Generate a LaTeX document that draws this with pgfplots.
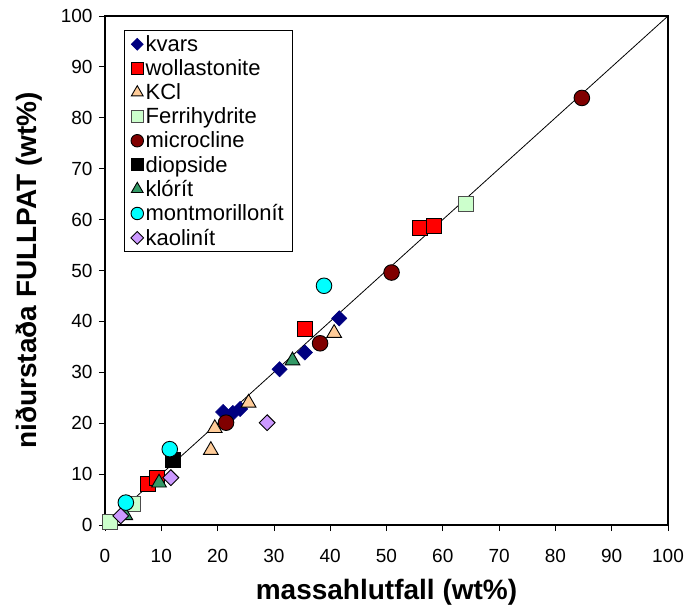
\documentclass[border=0pt]{standalone}
\usepackage{pgfplots}
\pgfplotsset{compat=1.18}
\usepackage{fontspec}
\setmainfont{Liberation Sans}
\definecolor{kvars}{RGB}{0,0,128}
\definecolor{woll}{RGB}{255,0,0}
\definecolor{kcl}{RGB}{255,204,153}
\definecolor{ferri}{RGB}{204,255,204}
\definecolor{micro}{RGB}{128,0,0}
\definecolor{klor}{RGB}{51,153,102}
\definecolor{mont}{RGB}{0,255,255}
\definecolor{kaol}{RGB}{204,153,255}
\begin{document}
\begin{tikzpicture}
\begin{axis}[
  name=ax,
  scale only axis,
  width=563bp, height=509bp,
  xmin=0, xmax=100, ymin=0, ymax=100,
  xtick={0,10,...,100}, ytick={0,10,...,100},
  tick pos=left, tick align=outside,
  major tick length=6bp,
  axis line style={line width=1.6bp},
  every tick/.style={black, line width=0.8bp},
  /pgf/number format/assume math mode=true,
  tick label style={font=\fontsize{19bp}{22bp}\selectfont},
  xticklabel style={yshift=-15bp},
  yticklabel style={xshift=-3bp},
  xlabel={\textbf{massahlutfall (wt\%)}},
  ylabel={\textbf{niðurstaða FULLPAT (wt\%)}},
  label style={font=\fontsize{28bp}{32bp}\selectfont},
  xlabel style={at={(axis description cs:0.5,0)}, anchor=center, yshift=-67bp},
  ylabel style={at={(axis description cs:0,0.5)}, anchor=center, rotate=0, yshift=76bp},
  legend cell align=left,
  legend style={at={(0.034,0.972)}, anchor=north west, draw=black, line width=0.6bp,
    font=\fontsize{22bp}{26bp}\selectfont, row sep=2.7bp, inner xsep=6.5bp, inner ysep=3bp},
  legend image code/.code={\draw[#1, every mark/.append style={scale=0.8}] plot coordinates {(0.3cm,0cm)};},
  clip=false,
]
\addplot[black, line width=0.8bp, forget plot] coordinates {(0,0) (100,100)};
\addplot[only marks, mark=square*, mark size=5.4bp, mark options={rotate=45, fill=kvars, draw=kvars, line width=0.5bp}]
  coordinates {(21,22.2) (22.7,22) (24,22.8) (31,30.6) (35.5,33.9) (41.6,40.6)};
\addlegendentry{kvars}
\addplot[only marks, mark=square*, mark size=7.5bp, mark options={fill=woll, draw=black, line width=0.9bp}]
  coordinates {(7.7,8.1) (9.2,9.2) (35.6,38.6) (55.9,58.3) (58.4,58.7)};
\addlegendentry{wollastonite}
\addplot[only marks, mark=triangle*, mark size=8.5bp, mark options={fill=kcl, draw=black, line width=0.9bp}]
  coordinates {(18.8,14.7) (19.5,19) (25.5,24) (40.7,37.7)};
\addlegendentry{KCl}
\addplot[only marks, mark=square*, mark size=7.5bp, mark options={fill=ferri, draw=black!70, line width=0.9bp}]
  coordinates {(0.9,0.6) (5.0,4.1) (64.1,63.1)};
\addlegendentry{Ferrihydrite}
\addplot[only marks, mark=*, mark size=7.8bp, mark options={fill=micro, draw=black, line width=0.9bp}]
  coordinates {(21.5,20.1) (38.2,35.7) (50.9,49.6) (84.7,83.9)};
\addlegendentry{microcline}
\addplot[only marks, mark=square*, mark size=7.5bp, mark options={fill=black, draw=black, line width=0.9bp}]
  coordinates {(12,12.8)};
\addlegendentry{diopside}
\addplot[only marks, mark=triangle*, mark size=8.5bp, mark options={fill=klor, draw=black, line width=0.9bp}]
  coordinates {(3.6,1.9) (9.6,8.3) (33.3,32.3)};
\addlegendentry{klórít}
\addplot[only marks, mark=*, mark size=7.8bp, mark options={fill=mont, draw=black, line width=0.9bp}]
  coordinates {(3.7,4.4) (11.5,14.9) (38.9,47.0)};
\addlegendentry{montmorillonít}
\addplot[only marks, mark=square*, mark size=5.6bp, mark options={rotate=45, fill=kaol, draw=black, line width=0.9bp}]
  coordinates {(2.8,1.8) (11.7,9.3) (28.8,20.1)};
\addlegendentry{kaolinít}
\end{axis}
\pgfresetboundingbox
\path ([shift={(-105bp,-87bp)}]ax.south west) rectangle ([shift={(21bp,16bp)}]ax.north east);
\end{tikzpicture}
\end{document}
